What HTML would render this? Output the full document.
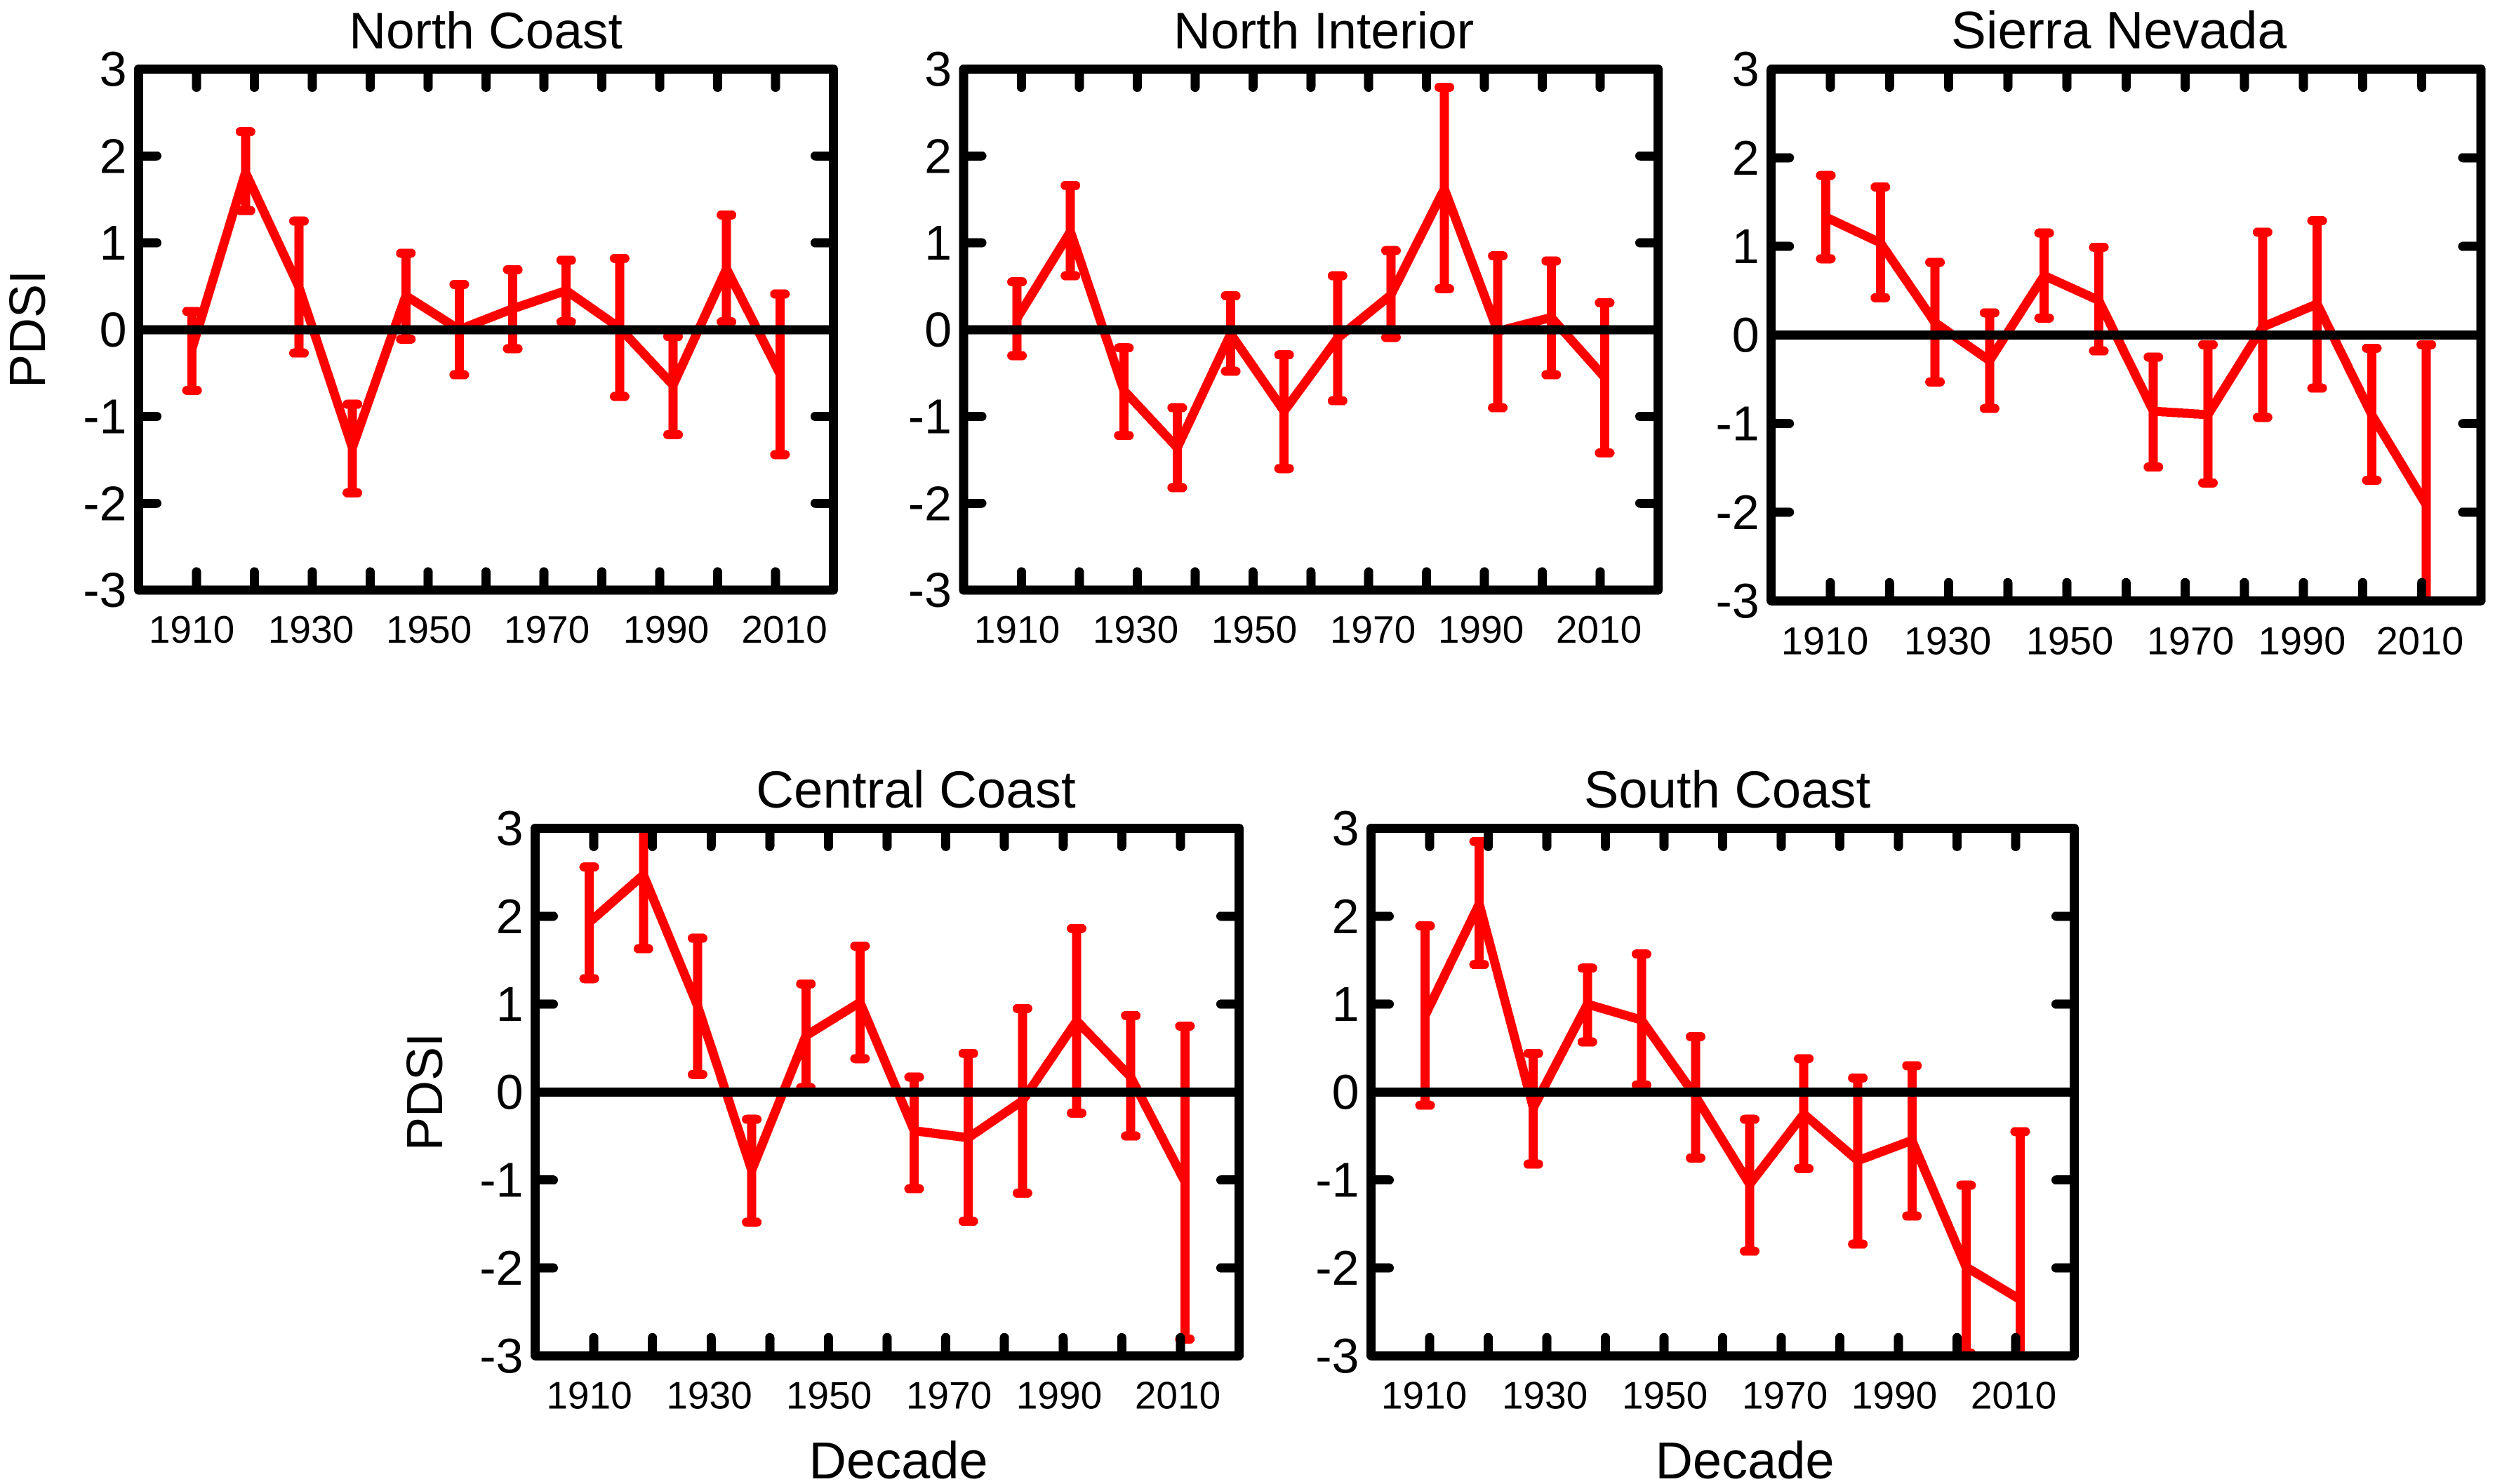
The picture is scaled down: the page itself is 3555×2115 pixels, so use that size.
<!DOCTYPE html>
<html lang="en">
<head>
<meta charset="utf-8">
<title>PDSI by decade for California regions</title>
<style>
html,body{margin:0;padding:0;background:#fff;}
svg{display:block;}
text{font-family:"Liberation Sans",sans-serif;fill:#000;}
line,polyline,rect{shape-rendering:crispEdges;}
</style>
</head>
<body>
<svg id="chart" xmlns="http://www.w3.org/2000/svg" width="3555" height="2115" viewBox="0 0 3555 2115"></svg>
<script>
const decades = [1910, 1920, 1930, 1940, 1950, 1960, 1970, 1980, 1990, 2000, 2010, 2020];
const xTickLabels = ['1910', '1930', '1950', '1970', '1990', '2010'];
const yTickLabels = [3, 2, 1, 0, -1, -2, -3];

const northCoastMean = [-0.22, 1.81, 0.49, -1.36, 0.39, 0.00, 0.24, 0.45, 0.02, -0.64, 0.70, -0.51];
const northCoastHigh = [0.21, 2.28, 1.25, -0.86, 0.88, 0.52, 0.69, 0.80, 0.82, -0.08, 1.32, 0.41];
const northCoastLow = [-0.70, 1.37, -0.27, -1.88, -0.11, -0.52, -0.22, 0.09, -0.77, -1.21, 0.09, -1.44];

const northInteriorMean = [0.13, 1.13, -0.70, -1.36, -0.05, -0.94, -0.10, 0.40, 1.62, -0.02, 0.14, -0.55];
const northInteriorHigh = [0.55, 1.66, -0.21, -0.90, 0.39, -0.29, 0.62, 0.91, 2.79, 0.85, 0.79, 0.31];
const northInteriorLow = [-0.30, 0.62, -1.22, -1.82, -0.48, -1.60, -0.82, -0.09, 0.47, -0.90, -0.52, -1.42];

const sierraNevadaMean = [1.33, 1.04, 0.14, -0.29, 0.67, 0.39, -0.86, -0.90, 0.09, 0.35, -0.90, -1.92];
const sierraNevadaHigh = [1.80, 1.67, 0.82, 0.25, 1.15, 0.99, -0.25, -0.11, 1.16, 1.29, -0.15, -0.11];
const sierraNevadaLow = [0.86, 0.42, -0.53, -0.83, 0.19, -0.18, -1.49, -1.67, -0.93, -0.60, -1.64, -3.70];

const centralCoastMean = [1.93, 2.47, 0.98, -0.89, 0.64, 1.02, -0.44, -0.52, -0.10, 0.81, 0.17, -1.02];
const centralCoastHigh = [2.56, 3.31, 1.75, -0.31, 1.23, 1.66, 0.17, 0.44, 0.95, 1.86, 0.87, 0.75];
const centralCoastLow = [1.29, 1.63, 0.20, -1.48, 0.05, 0.38, -1.10, -1.47, -1.15, -0.24, -0.50, -2.81];

const southCoastMean = [0.87, 2.14, -0.18, 1.00, 0.82, -0.05, -1.05, -0.25, -0.78, -0.55, -1.99, -2.36];
const southCoastHigh = [1.89, 2.85, 0.44, 1.41, 1.57, 0.63, -0.31, 0.38, 0.16, 0.30, -1.06, -0.45];
const southCoastLow = [-0.15, 1.45, -0.82, 0.57, 0.08, -0.75, -1.81, -0.87, -1.73, -1.41, -2.97, -4.20];

const panelLayouts = [
  {key:'north-coast', title:'North Coast', mean:northCoastMean, high:northCoastHigh, low:northCoastLow,
   left:197.5, right:1187.5, top:98.5, bottom:841, titleX:692, titleY:69, titleSize:73,
   labelX:[273,443,611,779,949,1117.5], labelSize:55, labelY:916, yTitle:{x:64,y:469}},
  {key:'north-interior', title:'North Interior', mean:northInteriorMean, high:northInteriorHigh, low:northInteriorLow,
   left:1373, right:2362.5, top:98.5, bottom:841, titleX:1886, titleY:69, titleSize:73.4,
   labelX:[1449,1618,1787,1956,2110,2278], labelSize:55, labelY:916},
  {key:'sierra-nevada', title:'Sierra Nevada', mean:sierraNevadaMean, high:sierraNevadaHigh, low:sierraNevadaLow,
   left:2523.7, right:3535, top:98.5, bottom:856.3, titleX:3019, titleY:69, titleSize:74.8,
   labelX:[2600,2775,2949,3121,3280,3448], labelSize:56, labelY:932.5},
  {key:'central-coast', title:'Central Coast', mean:centralCoastMean, high:centralCoastHigh, low:centralCoastLow,
   left:762.5, right:1765.5, top:1180.5, bottom:1932.3, titleX:1305, titleY:1151, titleSize:74.5,
   labelX:[839.5,1010.5,1181,1352,1509,1678], labelSize:55, labelY:2007.3, yTitle:{x:630,y:1556}, xTitle:{x:1280,y:2107}},
  {key:'south-coast', title:'South Coast', mean:southCoastMean, high:southCoastHigh, low:southCoastLow,
   left:1953.5, right:2955.5, top:1180.5, bottom:1932.3, titleX:2461, titleY:1151, titleSize:74.2,
   labelX:[2029,2201,2372,2543,2699,2869], labelSize:55, labelY:2007.3, xTitle:{x:2486,y:2107}}
];

const SVG_NS = 'http://www.w3.org/2000/svg';
const chart = document.getElementById('chart');
const RED = '#ff0000';
const STROKE = 13;
const CAP_HALF = 7.5;
const TICK = 26;

function make(tag, parent, attrs, content) {
  const el = document.createElementNS(SVG_NS, tag);
  for (const k in attrs) el.setAttribute(k, attrs[k]);
  if (content !== undefined) el.textContent = content;
  parent.appendChild(el);
  return el;
}

function drawPanel(p) {
  const w = p.right - p.left;
  const xScale = d => p.left + ((d - 1900) / 130) * w;
  const yScale = v => p.top + ((3 - v) / 6) * (p.bottom - p.top);
  const xTickPos = k => p.left + (k / 12) * w;

  const g = make('g', chart, {});
  
  

  const clip = make('clipPath', g, {id:'clip-' + p.key});
  make('rect', clip, {x:p.left, y:p.top, width:w, height:p.bottom - p.top});

  const marks = make('g', g, {'clip-path':'url(#clip-' + p.key + ')'});
  
  

  decades.forEach((d, i) => {
    const x = xScale(d);
    const bar = make('line', marks, {x1:x, x2:x, y1:yScale(p.high[i]), y2:yScale(p.low[i]), stroke:RED, 'stroke-width':STROKE});
    
    
    const capHigh = make('line', marks, {x1:x - CAP_HALF, x2:x + CAP_HALF, y1:yScale(p.high[i]), y2:yScale(p.high[i]), stroke:RED, 'stroke-width':STROKE, 'stroke-linecap':'round'});
    
    
    const capLow = make('line', marks, {x1:x - CAP_HALF, x2:x + CAP_HALF, y1:yScale(p.low[i]), y2:yScale(p.low[i]), stroke:RED, 'stroke-width':STROKE, 'stroke-linecap':'round'});
    
    
  });

  const pts = decades.map((d, i) => xScale(d) + ',' + yScale(p.mean[i])).join(' ');
  const meanLine = make('polyline', marks, {points:pts, fill:'none', stroke:RED, 'stroke-width':STROKE, 'stroke-linejoin':'miter', 'stroke-miterlimit':10});
  
  

  const zero = make('line', g, {x1:p.left, x2:p.right, y1:yScale(0), y2:yScale(0), stroke:'#000', 'stroke-width':STROKE});
  
  

  for (let k = 1; k <= 11; k++) {
    const x = xTickPos(k);
    const topTick = make('line', g, {x1:x, x2:x, y1:p.top, y2:p.top + TICK, stroke:'#000', 'stroke-width':STROKE, 'stroke-linecap':'round'});
    
    
    const bottomTick = make('line', g, {x1:x, x2:x, y1:p.bottom, y2:p.bottom - TICK, stroke:'#000', 'stroke-width':STROKE, 'stroke-linecap':'round'});
    
    
  }

  yTickLabels.forEach(v => {
    const y = yScale(v);
    if (v !== 0 && Math.abs(v) !== 3) {
      const leftTick = make('line', g, {x1:p.left, x2:p.left + TICK, y1:y, y2:y, stroke:'#000', 'stroke-width':STROKE, 'stroke-linecap':'round'});
      
      
      const rightTick = make('line', g, {x1:p.right, x2:p.right - TICK, y1:y, y2:y, stroke:'#000', 'stroke-width':STROKE, 'stroke-linecap':'round'});
      
      
    }
    const label = make('text', g, {x:p.left - 17, y:y + 24, 'font-size':70, 'text-anchor':'end'}, String(v));
    
    
  });

  const frame = make('rect', g, {x:p.left, y:p.top, width:w, height:p.bottom - p.top, fill:'none', stroke:'#000', 'stroke-width':STROKE, 'stroke-linejoin':'round'});
  
  

  xTickLabels.forEach((t, i) => {
    const label = make('text', g, {x:p.labelX[i], y:p.labelY, 'font-size':p.labelSize, 'text-anchor':'middle'}, t);
    
    
  });

  const title = make('text', g, {x:p.titleX, y:p.titleY, 'font-size':p.titleSize, 'text-anchor':'middle'}, p.title);
  
  

  if (p.yTitle) {
    const yTitle = make('text', g, {x:p.yTitle.x, y:p.yTitle.y, 'font-size':72, 'text-anchor':'middle', transform:'rotate(-90 ' + p.yTitle.x + ' ' + p.yTitle.y + ')'}, 'PDSI');
    
    
  }
  if (p.xTitle) {
    const xTitle = make('text', g, {x:p.xTitle.x, y:p.xTitle.y, 'font-size':74, 'text-anchor':'middle'}, 'Decade');
    
    
  }
}

panelLayouts.forEach(drawPanel);
</script>
</body>
</html>
